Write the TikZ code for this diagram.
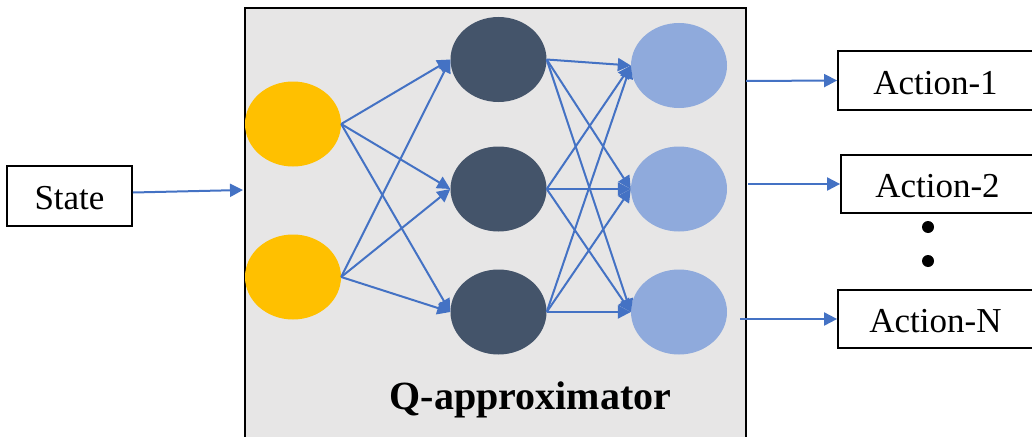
\documentclass[tikz,border=0pt]{standalone}
\usepackage{fontspec}
\setmainfont{Liberation Serif}
\usetikzlibrary{arrows.meta,shapes.geometric}

\definecolor{panelgray}{HTML}{E7E6E6}
\definecolor{inputgold}{HTML}{FFC000}
\definecolor{hiddenslate}{HTML}{44546A}
\definecolor{outputsky}{HTML}{8FAADC}
\definecolor{linkblue}{HTML}{4472C4}

\begin{document}
\begin{tikzpicture}[x=1pt,y=-1pt,
  flow/.style={draw=linkblue, line width=2pt, -{Triangle[length=13pt,width=13pt]}},
  neuron/.style={ellipse, minimum width=96pt, minimum height=85pt, inner sep=0pt},
  labelbox/.style={draw=black, line width=1.8pt, fill=white, inner sep=0pt,
                   text height=27pt, text depth=0pt,
                   font=\fontsize{35}{40}\selectfont},
  dotmark/.style={circle, fill=black, minimum size=12pt, inner sep=0pt}
]
\useasboundingbox (0,0) rectangle (1032,436);
\clip (0,0) rectangle (1032,436);

% approximator panel
\node[draw=black, line width=1.8pt, fill=panelgray, inner sep=0pt,
      minimum width=501pt, minimum height=445pt, anchor=north west] (Q) at (244,7) {};
\node[font=\fontsize{40}{44}\selectfont\bfseries, anchor=base] (qlabel) at (530.5,409) {Q-approximator};

% network layers
\node[neuron, fill=inputgold] (i1) at (293,124) {};
\node[neuron, fill=inputgold] (i2) at (293,277) {};
\node[neuron, fill=hiddenslate] (h1) at (498.5,59.5) {};
\node[neuron, fill=hiddenslate] (h2) at (498.5,189) {};
\node[neuron, fill=hiddenslate] (h3) at (498.5,312) {};
\node[neuron, fill=outputsky] (o1) at (679,65.5) {};
\node[neuron, fill=outputsky] (o2) at (679,189) {};
\node[neuron, fill=outputsky] (o3) at (679,312) {};

\foreach \s in {i1,i2}
  \foreach \t in {h1,h2,h3}
    \draw[flow] (\s.east) -- (\t.west);
\foreach \s in {h1,h2,h3}
  \foreach \t in {o1,o2,o3}
    \draw[flow] (\s.east) -- (\t.west);

% input and outputs
\node[labelbox, minimum width=125pt, minimum height=60pt] (state) at (69.5,196) {State};
\coordinate (qin) at (243,190);
\draw[flow] ([yshift=3.5pt]state.east) -- (qin);

\node[labelbox, minimum width=195pt, minimum height=59pt] (a1) at (935.5,80.5) {Action-1};
\node[labelbox, minimum width=193pt, minimum height=58pt] (a2) at (937.5,184) {Action-2};
\node[labelbox, minimum width=195pt, minimum height=58pt] (aN) at (935.5,319) {Action-N};

\node[dotmark] (d1) at (928,227) {};
\node[dotmark] (d2) at (928,261) {};

\coordinate (q1) at (746,81);
\coordinate (q2) at (748,184);
\coordinate (qN) at (740,319);
\draw[flow] (q1) -- (a1.west);
\draw[flow] (q2) -- (a2.west);
\draw[flow] (qN) -- (aN.west);
\end{tikzpicture}
\end{document}
